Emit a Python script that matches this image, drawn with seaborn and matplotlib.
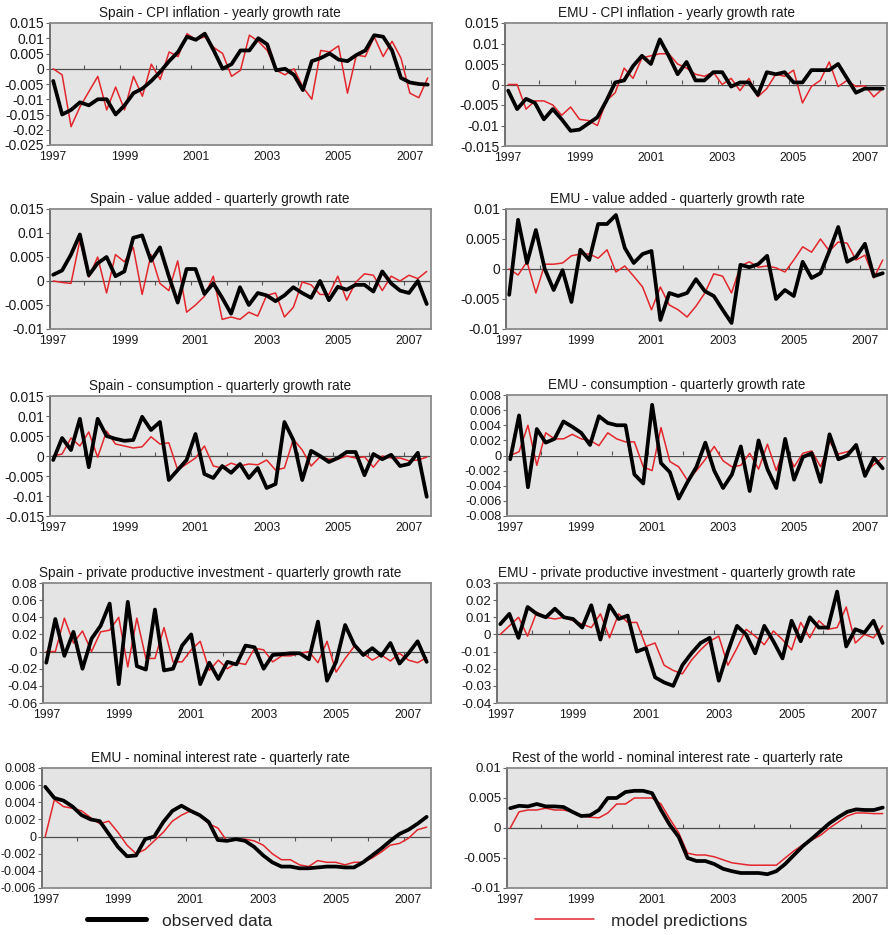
import numpy as np
import pandas as pd
import matplotlib
matplotlib.use("Agg")
import matplotlib.pyplot as plt
import seaborn as sns
from matplotlib.lines import Line2D

sns.set_theme(style="white")
plt.rcParams["font.family"] = ["Liberation Sans", "DejaVu Sans"]
plt.rcParams["axes.unicode_minus"] = False

# quarterly data 1997Q1 .. 2007Q3
quarters = np.arange(1997, 2007.6, 0.25)

titles = [
    "Spain - CPI inflation - yearly growth rate",
    "EMU - CPI inflation - yearly growth rate",
    "Spain - value added - quarterly growth rate",
    "EMU - value added - quarterly growth rate",
    "Spain - consumption - quarterly growth rate",
    "EMU - consumption - quarterly growth rate",
    "Spain - private productive investment - quarterly growth rate",
    "EMU - private productive investment - quarterly growth rate",
    "EMU - nominal interest rate - quarterly rate",
    "Rest of the world - nominal interest rate - quarterly rate",
]

es_cpi_obs = [-0.004, -0.015, -0.0135, -0.011, -0.012, -0.010, -0.010, -0.015, -0.012, -0.008, -0.0065,
              -0.004, -0.001, 0.0025, 0.0055, 0.0105, 0.0095, 0.0115, 0.006, 0.0, 0.0015, 0.006, 0.006,
              0.010, 0.008, -0.0005, 0.0, -0.002, -0.007, 0.0025, 0.0035, 0.005, 0.003, 0.0025, 0.0045,
              0.006, 0.011, 0.0105, 0.006, -0.003, -0.0045, -0.005, -0.0052]
es_cpi_pred = [0.0, -0.002, -0.019, -0.0125, -0.0075, -0.0025, -0.0135, -0.006, -0.0135, -0.0025, -0.009,
               0.0015, -0.0035, 0.0055, 0.004, 0.0115, 0.0095, 0.0105, 0.007, 0.005, -0.0025, -0.0005, 0.011,
               0.009, 0.006, -0.0005, -0.002, 0.0, -0.006, -0.010, 0.006, 0.0055, 0.0075, -0.008, 0.0045,
               0.004, 0.0105, 0.004, 0.009, 0.0035, -0.008, -0.0095, -0.003]

emu_cpi_obs = [-0.0015, -0.006, -0.0035, -0.0045, -0.0085, -0.006, -0.0085, -0.0113, -0.011, -0.0095,
               -0.008, -0.004, 0.0005, 0.001, 0.0045, 0.007, 0.005, 0.011, 0.007, 0.0025, 0.0055, 0.001,
               0.001, 0.003, 0.003, -0.0005, 0.0005, 0.0005, -0.0025, 0.003, 0.0025, 0.003, 0.0005, 0.0005,
               0.0035, 0.0035, 0.0035, 0.005, 0.0015, -0.002, -0.001, -0.001, -0.001]
emu_cpi_pred = [0.0, 0.0, -0.006, -0.004, -0.004, -0.005, -0.0075, -0.0055, -0.0085, -0.0088, -0.010,
                -0.004, -0.002, 0.004, 0.0015, 0.0065, 0.007, 0.0075, 0.0075, 0.005, 0.004, 0.0025, 0.002,
                0.003, 0.0, 0.0015, -0.0015, 0.0015, -0.003, -0.001, 0.0025, 0.002, 0.0035, -0.0045, -0.0005,
                0.001, 0.0055, -0.0005, 0.001, -0.0005, -0.0003, -0.003, -0.001]

es_va_obs = [0.0013, 0.0022, 0.0055, 0.0097, 0.0012, 0.0037, 0.005, 0.001, 0.002, 0.009, 0.0095, 0.0042,
             0.007, 0.001, -0.0045, 0.0025, 0.0025, -0.0027, -0.0005, -0.0035, -0.0068, -0.0013, -0.005,
             -0.0025, -0.003, -0.0042, -0.003, -0.0013, -0.0025, -0.0035, 0.0, -0.004, -0.0012, -0.0018,
             -0.0008, -0.0008, -0.0022, 0.002, -0.0005, -0.002, -0.0025, 0.0, -0.0048]
es_va_pred = [0.0, -0.0003, -0.0005, 0.0085, 0.0008, 0.005, -0.0025, 0.0055, 0.004, 0.007, -0.0028, 0.0055,
              -0.0005, -0.002, 0.0042, -0.0065, -0.005, -0.0032, 0.001, -0.008, -0.0075, -0.008, -0.0065,
              -0.0073, -0.003, -0.0025, -0.0075, -0.0055, -0.0002, -0.0008, -0.0028, -0.0028, 0.001, -0.004,
              -0.0003, 0.0015, 0.0012, -0.002, 0.001, 0.0, 0.0012, 0.0005, 0.002]

emu_va_obs = [-0.0043, 0.0082, 0.001, 0.0065, 0.0, -0.0035, -0.0002, -0.0055, 0.0032, 0.0015, 0.0075,
              0.0075, 0.009, 0.0035, 0.001, 0.0025, 0.003, -0.0085, -0.004, -0.0045, -0.004, -0.0017,
              -0.0037, -0.0045, -0.0068, -0.009, 0.0007, 0.0003, 0.0008, 0.0022, -0.005, -0.0035, -0.0045,
              0.0012, -0.0015, -0.0007, 0.003, 0.007, 0.0012, 0.002, 0.0042, -0.0012, -0.0007]
emu_va_pred = [0.0, -0.001, 0.0012, -0.004, 0.0008, 0.0008, 0.001, 0.0022, 0.0025, 0.0025, 0.0018, 0.0032,
               -0.0005, 0.0005, -0.0012, -0.003, -0.0068, -0.003, -0.006, -0.0068, -0.008, -0.0062, -0.004,
               -0.0008, -0.0012, -0.004, 0.0005, 0.0012, 0.0003, 0.0005, 0.0002, -0.0005, 0.0015, 0.0037,
               0.0028, 0.005, 0.003, 0.0045, 0.0043, 0.0015, 0.0023, -0.0015, 0.0015]

es_cons_obs = [-0.001, 0.0045, 0.0015, 0.0093, -0.0028, 0.0093, 0.005, 0.0043, 0.0038, 0.004, 0.0098,
               0.0065, 0.0085, -0.006, -0.0035, -0.001, 0.0055, -0.0045, -0.0055, -0.0025, -0.0042, -0.002,
               -0.0055, -0.003, -0.008, -0.007, 0.0085, 0.004, -0.006, 0.0013, 0.0, -0.0015, -0.0005, 0.001,
               0.001, -0.0048, 0.0005, -0.0008, 0.0003, -0.0025, -0.002, 0.0008, -0.0102]
es_cons_pred = [0.0, 0.0005, 0.0045, 0.0025, 0.006, -0.0003, 0.0062, 0.003, 0.0025, 0.002, 0.0023, 0.0048,
                0.003, 0.0033, -0.0035, -0.002, -0.0005, 0.0025, -0.0025, -0.003, -0.0018, -0.0025, -0.002,
                -0.0022, -0.001, -0.0035, -0.003, 0.0042, 0.0015, -0.0025, -0.0002, -0.0008, -0.0008, 0.0,
                -0.0005, -0.0002, -0.0028, 0.0, -0.0005, -0.0005, -0.0012, -0.001, -0.0003]

emu_cons_obs = [-0.0005, 0.0053, -0.0042, 0.0035, 0.0017, 0.0022, 0.0045, 0.0038, 0.003, 0.0014, 0.0052,
                0.0043, 0.004, 0.004, -0.0025, -0.0037, 0.0067, -0.001, -0.0022, -0.0057, -0.0035, -0.0015,
                0.0017, -0.002, -0.0043, -0.0025, 0.0012, -0.0047, 0.002, -0.0018, -0.0043, 0.0022, -0.0032,
                -0.0002, 0.0003, -0.0035, 0.0028, -0.0005, 0.0, 0.0014, -0.0027, -0.0003, -0.0017]
emu_cons_pred = [0.0, 0.0005, 0.004, -0.0013, 0.003, 0.0022, 0.0022, 0.0028, 0.0022, 0.002, 0.0013, 0.003,
                 0.0022, 0.0018, 0.0018, -0.0015, -0.002, 0.0037, -0.0008, -0.0015, -0.0033, -0.002, -0.0005,
                 0.0012, -0.0007, -0.0015, -0.0013, 0.0003, -0.0018, 0.0015, -0.002, 0.0013, -0.0015, 0.0003,
                 0.0006, -0.0015, 0.0018, 0.0002, 0.0005, 0.001, -0.0022, -0.0012, -0.0003]

es_inv_obs = [-0.013, 0.038, -0.005, 0.023, -0.02, 0.015, 0.03, 0.056, -0.038, 0.058, -0.017, -0.021, 0.049,
              -0.022, -0.02, 0.007, 0.02, -0.038, -0.013, -0.032, -0.012, -0.015, 0.007, 0.005, -0.02, -0.004,
              -0.003, -0.002, -0.002, -0.009, 0.035, -0.034, -0.012, 0.031, 0.008, -0.004, 0.004, -0.005,
              0.01, -0.014, -0.002, 0.012, -0.012]
es_inv_pred = [0.0, 0.0, 0.039, 0.01, 0.024, 0.0, 0.023, 0.025, 0.04, -0.018, 0.039, -0.008, -0.008, 0.028,
               -0.012, -0.012, 0.002, 0.012, -0.022, -0.01, -0.02, -0.013, -0.015, 0.004, 0.002, -0.012,
               -0.005, -0.005, -0.002, 0.0, -0.013, 0.012, -0.024, -0.008, 0.006, -0.002, -0.01, -0.004,
               -0.011, -0.002, -0.01, -0.013, -0.007]

emu_inv_obs = [0.006, 0.012, -0.002, 0.016, 0.012, 0.01, 0.015, 0.01, 0.009, 0.004, 0.017, -0.003, 0.017,
               0.009, 0.011, -0.01, -0.008, -0.025, -0.028, -0.03, -0.018, -0.011, -0.005, -0.002, -0.027,
               -0.01, 0.005, 0.0, -0.011, 0.005, -0.004, -0.014, 0.008, -0.004, 0.01, 0.004, 0.004, 0.025,
               -0.007, 0.003, 0.001, 0.008, -0.005]
emu_inv_pred = [0.0, 0.005, 0.01, -0.001, 0.013, 0.01, 0.009, 0.01, 0.008, 0.006, 0.004, 0.012, -0.002,
                0.012, 0.007, 0.007, -0.007, -0.005, -0.018, -0.021, -0.023, -0.015, -0.009, -0.004, -0.001,
                -0.018, -0.008, 0.003, -0.001, -0.006, 0.002, -0.003, -0.009, 0.007, -0.002, 0.008, 0.003,
                0.004, 0.016, -0.005, 0.0, -0.002, 0.005]

emu_rate_obs = [0.0058, 0.0045, 0.0042, 0.0035, 0.0025, 0.002, 0.0018, 0.0003, -0.0012, -0.0023, -0.0022,
                -0.0003, 0.0, 0.0017, 0.003, 0.0036, 0.003, 0.0025, 0.0017, -0.0004, -0.0005, -0.0003,
                -0.0005, -0.0012, -0.0022, -0.003, -0.0035, -0.0035, -0.0037, -0.0037, -0.0036, -0.0035,
                -0.0035, -0.0036, -0.0036, -0.003, -0.0022, -0.0014, -0.0005, 0.0003, 0.0008, 0.0015, 0.0023]
emu_rate_pred = [0.0, 0.0043, 0.0035, 0.0033, 0.003, 0.0022, 0.0015, 0.0018, 0.0005, -0.001, -0.002,
                 -0.0015, -0.0005, 0.0005, 0.0018, 0.0025, 0.003, 0.0025, 0.0015, 0.001, -0.0005, -0.0003,
                 -0.0003, -0.0005, -0.001, -0.002, -0.0027, -0.0027, -0.0033, -0.0035, -0.0028, -0.003,
                 -0.003, -0.0033, -0.003, -0.003, -0.0025, -0.0018, -0.001, -0.0008, -0.0002, 0.0008, 0.0011]

row_rate_obs = [0.0033, 0.0037, 0.0036, 0.004, 0.0036, 0.0036, 0.0035, 0.0027, 0.002, 0.0021, 0.003, 0.005,
                0.005, 0.006, 0.0062, 0.0062, 0.0058, 0.003, 0.0005, -0.0015, -0.005, -0.0055, -0.0055,
                -0.006, -0.0068, -0.0072, -0.0075, -0.0075, -0.0075, -0.0077, -0.0072, -0.006, -0.0045,
                -0.003, -0.0018, -0.0005, 0.0008, 0.0018, 0.0027, 0.0031, 0.003, 0.003, 0.0034]
row_rate_pred = [0.0, 0.0027, 0.003, 0.003, 0.0033, 0.003, 0.003, 0.0027, 0.002, 0.0018, 0.0017, 0.0025,
                 0.004, 0.004, 0.005, 0.005, 0.005, 0.004, 0.0015, -0.0008, -0.0042, -0.0045, -0.0045,
                 -0.0048, -0.0053, -0.0058, -0.006, -0.0062, -0.0062, -0.0062, -0.0062, -0.005, -0.0038,
                 -0.0028, -0.002, -0.0012, 0.0, 0.001, 0.002, 0.0025, 0.0025, 0.0024, 0.0024]

observed = [es_cpi_obs, emu_cpi_obs, es_va_obs, emu_va_obs, es_cons_obs, emu_cons_obs,
            es_inv_obs, emu_inv_obs, emu_rate_obs, row_rate_obs]
predicted = [es_cpi_pred, emu_cpi_pred, es_va_pred, emu_va_pred, es_cons_pred, emu_cons_pred,
             es_inv_pred, emu_inv_pred, emu_rate_pred, row_rate_pred]

# y axis range and step for each panel
y_axes = [(-0.025, 0.015, 0.005), (-0.015, 0.015, 0.005), (-0.01, 0.015, 0.005), (-0.01, 0.01, 0.005),
          (-0.015, 0.015, 0.005), (-0.008, 0.008, 0.002), (-0.06, 0.08, 0.02), (-0.04, 0.03, 0.01),
          (-0.006, 0.008, 0.002), (-0.01, 0.01, 0.005)]
y_font = [10, 10, 10, 10, 10, 9.2, 9.5, 9.5, 9, 9.5]
year_ticks = [1997, 1999, 2001, 2003, 2005, 2007]
# small tick marks on the zero line (between categories)
zero_ticks = [1997.875 + k for k in range(11)]

# panel boxes in pixels: left, top, right, bottom
W, H = 889, 935
boxes = [(50, 23, 432, 145), (505, 23, 887, 146),
         (50, 209, 431, 329), (506, 209, 887, 329),
         (50, 396, 431, 516), (507, 395, 887, 516),
         (43, 583, 431, 703), (497, 583, 887, 703),
         (42, 768, 431, 888), (507, 768, 887, 888)]
title_centers = [220, 677]

fig = plt.figure(figsize=(W / 100, H / 100), dpi=100)

for k in range(10):
    l, t, r, b = boxes[k]
    ax = fig.add_axes([l / W, 1 - b / H, (r - l) / W, (b - t) / H])
    ax.set_facecolor("#e4e4e4")
    ax.axhline(0, color="#4d4d4d", lw=0.9, zorder=1)
    sns.lineplot(x=quarters, y=predicted[k], color="#e3262b", lw=1.1, ax=ax, zorder=3)
    sns.lineplot(x=quarters, y=observed[k], color="black", lw=2.7, ax=ax, zorder=4)

    lo, hi, step = y_axes[k]
    ticks = np.round(np.arange(lo, hi + step / 2, step), 4) + 0.0
    ax.set_ylim(lo, hi)
    ax.set_yticks(ticks)
    ax.set_yticklabels([f"{v:g}" for v in ticks], fontsize=y_font[k], color="#1a1a1a")
    ax.set_xlim(1996.91, 2007.62)
    ax.set_xticks(year_ticks)
    ax.set_xticklabels([str(y) for y in year_ticks], fontsize=8.8, color="#1a1a1a")
    ax.tick_params(axis="x", length=0, pad=4.5)
    ax.tick_params(axis="y", length=3, width=0.8, direction="out", color="#666666", pad=1.2, left=True)
    for s in ax.spines.values():
        s.set_color("#8a8a8a")
        s.set_linewidth(1.3)
    ax.spines["left"].set_color("#666666")

    # tick marks sitting on the zero line
    zax = ax.secondary_xaxis((0 - lo) / (hi - lo))
    zax.set_xticks(zero_ticks)
    zax.set_xticklabels([])
    zax.tick_params(length=3, width=0.8, color="#555555", direction="out")
    for s in zax.spines.values():
        s.set_visible(False)

    cx = title_centers[k % 2]
    ax.set_title(titles[k], fontsize=9.8, x=(cx - l) / (r - l), pad=4, color="#1a1a1a")
    ax.set_xlabel("")
    ax.set_ylabel("")

# legend
fig.legend(handles=[Line2D([], [], color="black", lw=3.6)], labels=["observed data"],
           loc="center left", bbox_to_anchor=(87 / W, 1 - 921 / H), frameon=False,
           handlelength=3.4, handletextpad=0.9, fontsize=12.5, borderpad=0, borderaxespad=0)
fig.legend(handles=[Line2D([], [], color="#e3262b", lw=1.1)], labels=["model predictions"],
           loc="center left", bbox_to_anchor=(535 / W, 1 - 921 / H), frameon=False,
           handlelength=3.4, handletextpad=1.0, fontsize=12.5, borderpad=0, borderaxespad=0)

fig.savefig("out.png", dpi=100, facecolor="white")
